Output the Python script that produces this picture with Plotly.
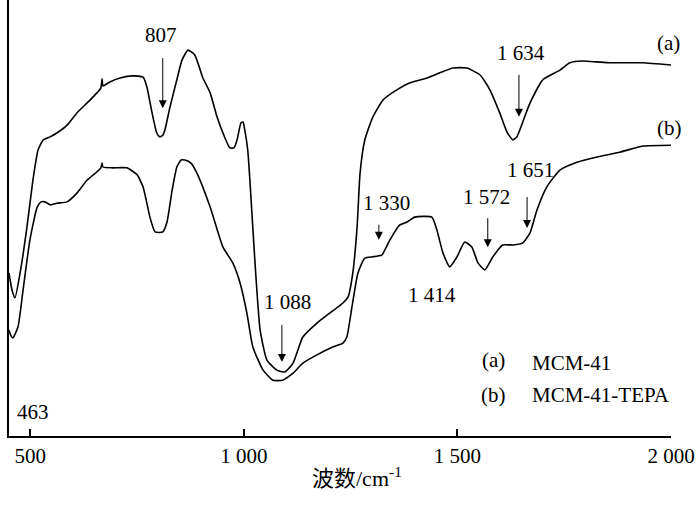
import plotly.graph_objects as go

# Curve (a) MCM-41: wavenumber (cm^-1) and relative transmittance (%)
wn_a = [450, 457, 464, 476, 492, 506, 518, 530, 546, 562, 586, 609, 633, 656, 665, 668, 670,
        686, 710, 740, 764, 773, 785, 796, 803, 810, 815, 827, 843, 855, 869, 885, 904, 921,
        937, 953, 967, 977, 984, 993, 998, 1002, 1009, 1014, 1026, 1038, 1054, 1077, 1096,
        1115, 1138, 1171, 1201, 1232, 1244, 1255, 1265, 1272, 1283, 1302, 1326, 1358, 1389,
        1429, 1459, 1489, 1522, 1553, 1576, 1599, 1616, 1630, 1639, 1646, 1670, 1700, 1740,
        1763, 1794, 1826, 1857, 1887, 1934, 2000]
t_a = [37.4, 33.5, 31.7, 37.4, 47.9, 58.7, 65.6, 67.9, 68.6, 69.5, 71.3, 74.1, 76.4, 78.7, 79.8,
       81.9, 80.3, 81.2, 82.1, 82.6, 82.3, 80.0, 74.1, 69.5, 68.6, 69.0, 70.2, 75.5, 81.7, 86.2,
       88.5, 87.4, 82.1, 78.7, 73.2, 69.0, 66.1, 66.1, 67.9, 71.8, 72.0, 70.2, 65.6, 58.7, 39.7,
       24.3, 17.4, 15.1, 14.7, 16.7, 22.7, 25.9, 28.2, 30.5, 31.9, 37.4, 47.9, 60.3, 67.9, 73.2,
       77.1, 79.4, 81.0, 82.1, 83.3, 84.4, 84.4, 82.8, 79.4, 74.1, 69.7, 67.9, 68.6, 70.2, 76.4,
       81.7, 83.9, 85.6, 86.0, 85.8, 85.6, 85.6, 85.6, 85.1]

# Curve (b) MCM-41-TEPA
wn_b = [450, 455, 459, 471, 483, 499, 516, 525, 534, 548, 562, 586, 609, 633, 656, 665, 668, 670,
        693, 726, 750, 764, 780, 792, 810, 820, 832, 843, 853, 862, 876, 890, 921, 951, 974, 991,
        1007, 1021, 1045, 1068, 1091, 1115, 1138, 1171, 1208, 1232, 1241, 1253, 1267, 1283, 1302,
        1314, 1323, 1342, 1365, 1382, 1400, 1440, 1452, 1466, 1482, 1499, 1517, 1534, 1548, 1564,
        1583, 1606, 1630, 1653, 1670, 1686, 1709, 1740, 1780, 1827, 1880, 1934, 2000]
t_b = [24.3, 22.9, 22.5, 25.0, 33.5, 45.0, 52.5, 53.7, 53.7, 53.0, 53.4, 53.7, 55.7, 58.7, 60.6,
       61.5, 62.6, 61.7, 61.5, 61.5, 59.9, 57.1, 50.2, 46.8, 46.8, 49.1, 56.4, 61.7, 63.3, 63.3,
       62.6, 60.3, 52.5, 43.3, 39.7, 35.1, 28.2, 20.4, 15.1, 12.8, 12.8, 14.4, 16.7, 18.6, 20.4,
       21.3, 22.7, 29.6, 37.4, 40.8, 41.1, 41.3, 41.5, 45.0, 48.4, 49.1, 50.2, 50.2, 47.2, 42.0,
       38.8, 41.1, 44.5, 43.3, 39.7, 38.1, 41.1, 43.8, 43.8, 44.3, 46.6, 51.8, 57.1, 61.0, 62.8,
       64.0, 65.1, 66.5, 66.7]

# Tick labels
tick_vals = [500, 1000, 1500, 2000]
tick_text = ["500", "1 000", "1 500", "2 000"]

# Peak arrows: (wavenumber at head, transmittance at head, arrow length in px)
arrow_wn = [810, 1644, 1089, 1316, 1571, 1663]
arrow_t = [75.2, 73.2, 17.0, 45.0, 43.3, 47.7]
arrow_len = [60, 52, 47, 25, 39, 41]

# Peak labels
label_text = ["807", "1 634", "1 088", "1 330", "1 572", "1 651", "1 414", "463"]
label_wn = [806, 1649, 1103, 1333, 1569, 1672, 1440, 506]
label_t = [92.0, 87.8, 30.7, 53.4, 54.8, 61.0, 32.3, 5.5]

serif = "Liberation Serif, Times New Roman, serif"
fig = go.Figure()
fig.add_trace(go.Scatter(x=wn_a, y=t_a, mode="lines", name="(a) MCM-41",
                         line=dict(color="black", width=1.6, shape="spline", smoothing=0.5)))
fig.add_trace(go.Scatter(x=wn_b, y=t_b, mode="lines", name="(b) MCM-41-TEPA",
                         line=dict(color="black", width=1.6, shape="spline", smoothing=0.5)))

for x, y, L in zip(arrow_wn, arrow_t, arrow_len):
    fig.add_annotation(x=x, y=y, text=" ", showarrow=True, ax=0, ay=-L,
                       arrowhead=2, arrowsize=1.6, arrowwidth=1, arrowcolor="black")

for s, x, y in zip(label_text, label_wn, label_t):
    fig.add_annotation(x=x, y=y, text=s, showarrow=False,
                       font=dict(family=serif, size=21, color="black"))

# curve labels
fig.add_annotation(x=1993, y=90.1, text="(a)", showarrow=False,
                   font=dict(family=serif, size=21, color="black"))
fig.add_annotation(x=1997, y=70.6, text="(b)", showarrow=False,
                   font=dict(family=serif, size=21, color="black"))
# legend text
fig.add_annotation(x=1585, y=17.4, text="(a)", showarrow=False,
                   font=dict(family=serif, size=21, color="black"))
fig.add_annotation(x=1670, y=16.7, text="MCM-41", showarrow=False, xanchor="left",
                   font=dict(family=serif, size=21, color="black"))
fig.add_annotation(x=1585, y=9.4, text="(b)", showarrow=False,
                   font=dict(family=serif, size=21, color="black"))
fig.add_annotation(x=1670, y=9.4, text="MCM-41-TEPA", showarrow=False, xanchor="left",
                   font=dict(family=serif, size=21, color="black"))
# axis title
fig.add_annotation(xref="paper", yref="paper", x=0.526, y=-0.131, text="波数/cm<sup>-1</sup>",
                   showarrow=False,
                   font=dict(family="Liberation Serif, Noto Sans CJK SC, serif", size=22, color="black"))

fig.update_layout(
    width=700, height=525,
    margin=dict(l=9, r=29, t=0, b=89, autoexpand=False),
    paper_bgcolor="white", plot_bgcolor="white",
    showlegend=False,
    xaxis=dict(range=[450, 2000], showgrid=False, zeroline=False, showline=True,
               linecolor="black", linewidth=2, ticks="inside", ticklen=7, tickwidth=2,
               tickcolor="black", tickvals=tick_vals, ticktext=tick_text,
               tickfont=dict(family=serif, size=21, color="black")),
    yaxis=dict(range=[0, 100], showgrid=False, zeroline=False, showline=True,
               linecolor="black", linewidth=2, showticklabels=False, ticks=""),
)

fig.write_html("out.html", config={"displayModeBar": False},
               post_script="document.body.style.margin='0';document.body.style.overflow='hidden';")
